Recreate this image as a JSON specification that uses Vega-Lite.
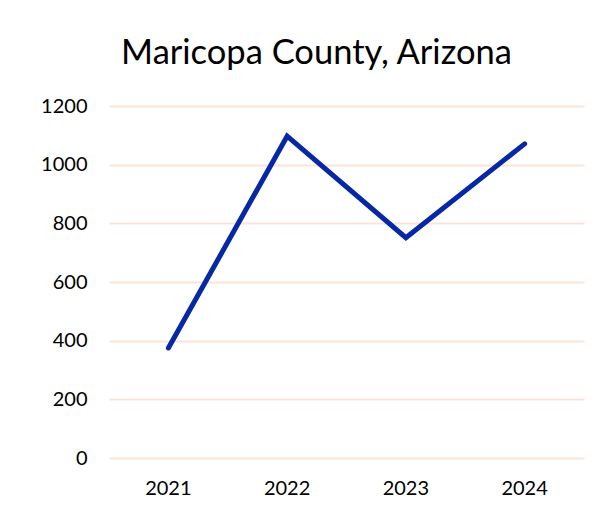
{
  "$schema": "https://vega.github.io/schema/vega-lite/v6.json",
  "width": 475,
  "height": 352,
  "autosize": {"type": "none"},
  "padding": {"left": 109, "top": 106, "right": 11, "bottom": 56},
  "background": "white",
  "title": {
    "text": "Maricopa County, Arizona",
    "font": "Lato",
    "fontSize": 34.5,
    "fontWeight": "normal",
    "color": "#000000",
    "anchor": "middle",
    "baseline": "alphabetic",
    "offset": -2,
    "dx": -30
  },
  "data": {
    "values": [
      {"year": "2021", "value": 375},
      {"year": "2022", "value": 1097},
      {"year": "2023", "value": 751},
      {"year": "2024", "value": 1071}
    ]
  },
  "mark": {"type": "line", "color": "#0627A6", "strokeWidth": 5, "strokeCap": "round", "strokeJoin": "miter"},
  "encoding": {
    "x": {
      "field": "year",
      "type": "ordinal",
      "scale": {"type": "band", "paddingInner": 0, "paddingOuter": 0},
      "axis": {"title": null, "labelAngle": 0, "domain": false, "ticks": false, "grid": false, "labelFont": "Lato", "labelFontSize": 20, "labelColor": "#000000", "labelPadding": 20, "bandPosition": 0.5}
    },
    "y": {
      "field": "value",
      "type": "quantitative",
      "scale": {"domain": [0, 1200], "nice": false},
      "axis": {"title": null, "format": "d", "values": [0, 200, 400, 600, 800, 1000, 1200], "domain": false, "ticks": false, "grid": true, "gridColor": "#FDE1DB", "gridWidth": 2, "labelFont": "Lato", "labelFontSize": 20, "labelColor": "#000000", "labelPadding": 22}
    }
  },
  "config": {"view": {"stroke": null}}
}
